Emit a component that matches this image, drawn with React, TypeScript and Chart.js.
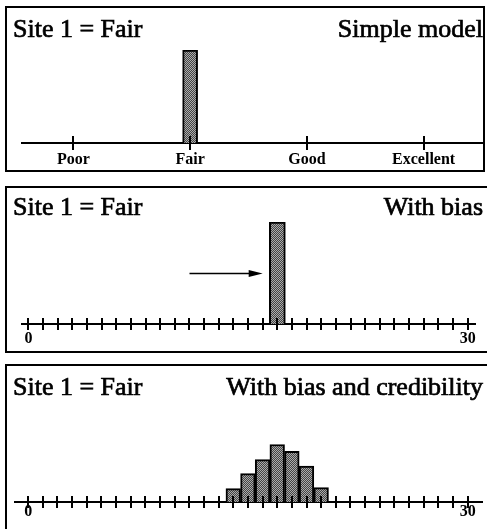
import React, { useEffect, useRef } from 'react';
import { Chart, registerables } from 'chart.js';

Chart.register(...registerables);

// ---------- data ----------
const siteTitle = 'Site 1 = Fair';
const modelTitles = ['Simple model', 'With bias', 'With bias and credibility'];

const ratingTickLabels = ['Poor', 'Fair', 'Good', 'Excellent'];
const simpleX = [1];
const simpleY = [1];

const scoreLabelled = [0, 30];
const biasX = [17];
const biasY = [1];
const biasArrowFrom = 11;
const biasArrowTo = 16;
const biasArrowLevel = 0.5;

const credX = [14, 15, 16, 17, 18, 19, 20];
const credY = [0.055, 0.117, 0.175, 0.237, 0.209, 0.148, 0.059];

// ---------- helpers ----------
const SERIF = '"Liberation Serif", "Times New Roman", serif';

function makePattern(): CanvasPattern | string {
  const c = document.createElement('canvas');
  c.width = 2;
  c.height = 2;
  const g = c.getContext('2d');
  if (!g) return '#808080';
  g.fillStyle = '#ababab';
  g.fillRect(0, 0, 2, 2);
  g.fillStyle = '#444444';
  g.fillRect(0, 0, 1, 1);
  g.fillRect(1, 1, 1, 1);
  const p = g.createPattern(c, 'repeat');
  return p || '#808080';
}

type PanelSpec = {
  key: string;
  right: string;
  xs: number[];
  ys: number[];
  xMin: number;
  xMax: number;
  yMax: number;
  tickLabel: (v: number) => string;
  barThickness?: number;
  padding: { left: number; right: number; top: number; bottom: number };
  tickPad: number;
  tickHalf: number;
  titleY: number;
  arrow?: { from: number; to: number; level: number };
  box: { left: number; top: number; width: number; height: number };
  canvasW: number;
  canvasH: number;
};

function Panel({ spec }: { spec: PanelSpec }) {
  const ref = useRef<HTMLCanvasElement | null>(null);
  useEffect(() => {
    const canvas = ref.current;
    if (!canvas) return;
    const fill = makePattern();
    const decor = {
      id: 'decor',
      afterDraw(chart: any) {
        const ctx = chart.ctx as CanvasRenderingContext2D;
        const xs = chart.scales.x;
        const ys = chart.scales.y;
        ctx.save();
        ctx.strokeStyle = '#000';
        ctx.lineWidth = 2;
        xs.ticks.forEach((_t: any, i: number) => {
          const px = Math.round(xs.getPixelForTick(i));
          ctx.beginPath();
          ctx.moveTo(px, xs.top - spec.tickHalf);
          ctx.lineTo(px, xs.top + spec.tickHalf);
          ctx.stroke();
        });
        if (spec.arrow) {
          const x1 = xs.getPixelForValue(spec.arrow.from);
          const x2 = xs.getPixelForValue(spec.arrow.to);
          const y = Math.round(ys.getPixelForValue(spec.arrow.level)) + 0.5;
          ctx.lineWidth = 1.6;
          ctx.beginPath();
          ctx.moveTo(x1, y);
          ctx.lineTo(x2 - 10, y);
          ctx.stroke();
          ctx.fillStyle = '#000';
          ctx.beginPath();
          ctx.moveTo(x2, y);
          ctx.lineTo(x2 - 14, y - 3.5);
          ctx.lineTo(x2 - 14, y + 3.5);
          ctx.closePath();
          ctx.fill();
        }
        ctx.fillStyle = '#000';
        ctx.strokeStyle = '#000';
        ctx.lineWidth = 0.7;
        ctx.font = `26px ${SERIF}`;
        ctx.textBaseline = 'alphabetic';
        ctx.textAlign = 'left';
        ctx.fillText(siteTitle, 6, spec.titleY);
        ctx.strokeText(siteTitle, 6, spec.titleY);
        ctx.textAlign = 'right';
        ctx.fillText(spec.right, 476, spec.titleY);
        ctx.strokeText(spec.right, 476, spec.titleY);
        ctx.restore();
      },
    };
    const chart = new Chart(canvas, {
      type: 'bar',
      data: {
        datasets: [
          {
            data: spec.xs.map((x, i) => ({ x, y: spec.ys[i] })),
            backgroundColor: fill as any,
            borderColor: '#000',
            borderWidth: 2,
            barPercentage: 1,
            categoryPercentage: 1,
            ...(spec.barThickness ? { barThickness: spec.barThickness } : {}),
          },
        ],
      },
      options: {
        animation: false,
        responsive: false,
        events: [],
        layout: { padding: spec.padding },
        plugins: { legend: { display: false }, tooltip: { enabled: false }, title: { display: false } },
        scales: {
          x: {
            type: 'linear',
            min: spec.xMin,
            max: spec.xMax,
            offset: false,
            grid: { display: false, drawTicks: false, offset: false },
            border: { display: true, color: '#000', width: 2 },
            afterFit: (s: any) => {
              s.height = 27;
            },
            ticks: {
              stepSize: 1,
              autoSkip: false,
              includeBounds: false,
              maxRotation: 0,
              padding: spec.tickPad,
              color: '#000',
              font: { family: SERIF, size: 16, weight: 'bold' },
              callback: (v: any) => spec.tickLabel(Number(v)),
            },
          },
          y: { display: false, min: 0, max: spec.yMax },
        },
      },
      plugins: [decor],
    });
    return () => chart.destroy();
  }, [spec]);
  return (
    <div
      style={{
        position: 'absolute',
        left: spec.box.left,
        top: spec.box.top,
        width: spec.box.width,
        height: spec.box.height,
        border: '2px solid #000',
        boxSizing: 'border-box',
        background: '#fff',
      }}
    >
      <canvas ref={ref} width={spec.canvasW} height={spec.canvasH} style={{ display: 'block', width: spec.canvasW, height: spec.canvasH }} />
    </div>
  );
}

const panels: PanelSpec[] = [
  {
    key: 'simple',
    right: modelTitles[0],
    xs: simpleX,
    ys: simpleY,
    xMin: -0.44,
    xMax: 3.5,
    yMax: 1,
    tickLabel: (v) => ratingTickLabels[v] ?? '',
    barThickness: 15,
    padding: { left: 15, right: 1, top: 42, bottom: 0 },
    tickPad: 7,
    tickHalf: 7,
    titleY: 29,
    box: { left: 5, top: 6, width: 480, height: 166 },
    canvasW: 476,
    canvasH: 162,
  },
  {
    key: 'bias',
    right: modelTitles[1],
    xs: biasX,
    ys: biasY,
    xMin: -0.44,
    xMax: 30.5,
    yMax: 1,
    tickLabel: (v) => (scoreLabelled.includes(v) ? String(v) : ''),
    barThickness: 16,
    padding: { left: 15, right: 18, top: 34, bottom: 0 },
    tickPad: 5,
    tickHalf: 6,
    titleY: 27,
    arrow: { from: biasArrowFrom, to: biasArrowTo, level: biasArrowLevel },
    box: { left: 5, top: 186, width: 492, height: 167 },
    canvasW: 486,
    canvasH: 163,
  },
  {
    key: 'cred',
    right: modelTitles[2],
    xs: credX,
    ys: credY,
    xMin: -0.9,
    xMax: 30.98,
    yMax: 0.4,
    tickLabel: (v) => (scoreLabelled.includes(v) ? String(v) : ''),
    padding: { left: 8, right: 11, top: 39, bottom: 0 },
    tickPad: 0,
    tickHalf: 6,
    titleY: 29,
    box: { left: 5, top: 364, width: 492, height: 170 },
    canvasW: 486,
    canvasH: 163,
  },
];

export default function App() {
  return (
    <div
      style={{
        position: 'absolute',
        left: 0,
        top: 0,
        width: 487,
        height: 529,
        overflow: 'hidden',
        background: '#fff',
      }}
    >
      {panels.map((p) => (
        <Panel key={p.key} spec={p} />
      ))}
    </div>
  );
}
